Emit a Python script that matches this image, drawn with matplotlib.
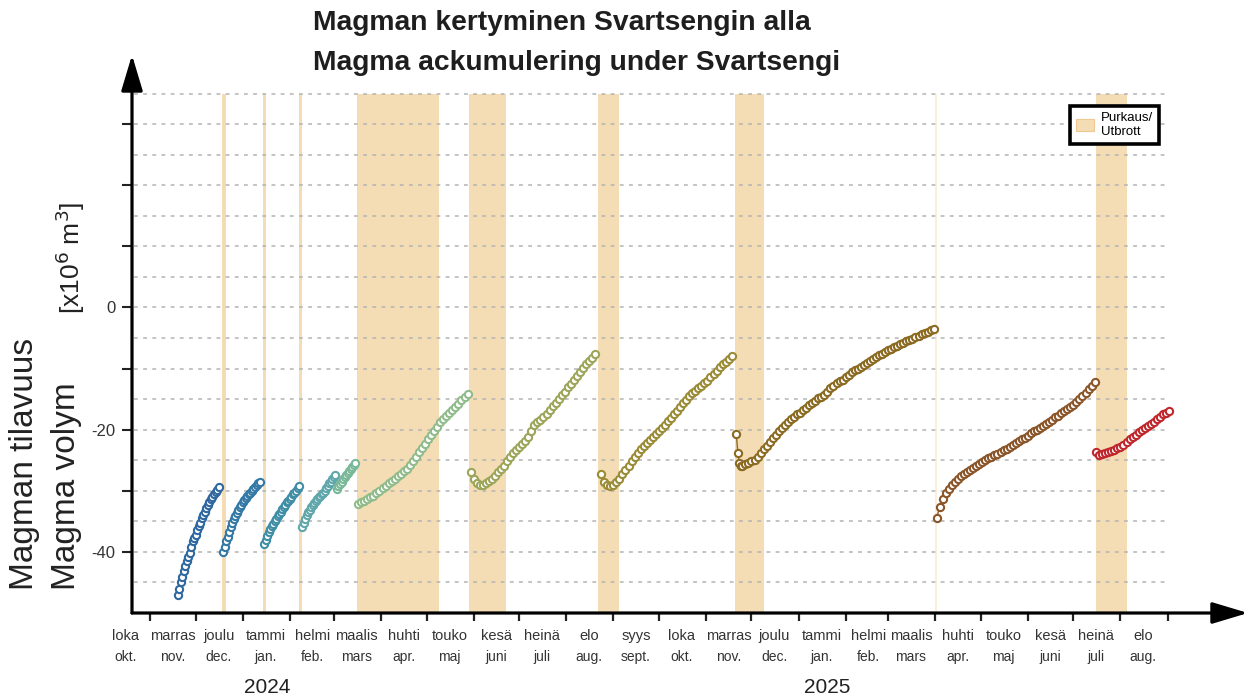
import matplotlib
matplotlib.use('Agg')
import matplotlib.pyplot as plt
from matplotlib.patches import Patch
from datetime import date, timedelta

plt.rcParams['font.family'] = ['Liberation Sans', 'DejaVu Sans']

# ---------------- data ----------------
s1_start, s1_step = date(2023, 11, 19), 1
s1_vals = [-47.1, -46.0, -45.0, -44.1, -43.2, -42.3, -41.5, -40.8, -40.2, -39.2,
           -38.3, -37.8, -37.2, -36.5, -35.8, -35.2, -34.5, -33.9, -33.4, -32.8,
           -32.3, -31.8, -31.4, -31.0, -30.6, -30.2, -29.8, -29.4]

s2_start, s2_step = date(2023, 12, 19), 1
s2_vals = [-40.1, -39.2, -38.3, -37.5, -36.7, -35.9, -35.2, -34.6, -34.1, -33.6,
           -33.1, -32.7, -32.3, -31.9, -31.5, -31.2, -30.9, -30.6, -30.3, -30.0,
           -29.7, -29.4, -29.1, -28.8, -28.5]

s3_start, s3_step = date(2024, 1, 15), 1
s3_vals = [-38.7, -38.0, -37.4, -36.8, -36.3, -35.8, -35.4, -35.0, -34.6, -34.2,
           -33.8, -33.4, -33.0, -32.6, -32.3, -31.9, -31.6, -31.3, -31.0, -30.6,
           -30.3, -30.0, -29.6, -29.2]

s4_start, s4_step = date(2024, 2, 9), 1
s4_vals = [-36.0, -35.3, -34.6, -34.0, -33.5, -33.1, -32.7, -32.4, -32.0, -31.7,
           -31.4, -31.1, -30.8, -30.5, -30.3, -30.0, -29.6, -29.2, -28.8, -28.5,
           -28.1, -27.8, -27.5]

s4b_start, s4b_step = date(2024, 3, 3), 1
s4b_vals = [-29.7, -29.3, -28.9, -28.5, -28.1, -27.8, -27.5, -27.1, -26.8, -26.5,
            -26.1, -25.8, -25.4]

s5_start, s5_step = date(2024, 3, 17), 2
s5_vals = [-32.2, -31.9, -31.6, -31.3, -31.0, -30.8, -30.4, -30.0, -29.6, -29.2,
           -28.8, -28.4, -28.0, -27.6, -27.2, -26.8, -26.4, -25.8, -25.1, -24.4,
           -23.7, -23.0, -22.3, -21.6, -20.9, -20.2, -19.5, -18.8, -18.3, -17.8,
           -17.3, -16.8, -16.3, -15.8, -15.2, -14.7, -14.2]

s6_start, s6_step = date(2024, 5, 30), 2
s6_vals = [-26.9, -28.0, -28.8, -29.1, -29.1, -28.8, -28.4, -28.0, -27.6, -27.0,
           -26.5, -26.0, -25.2, -24.5, -23.9, -23.4, -22.8, -22.3, -21.8, -21.2,
           -20.3, -19.3, -18.8, -18.4, -18.0, -17.4, -16.8, -16.2, -15.6, -15.0,
           -14.4, -13.8, -13.1, -12.5, -11.8, -11.2, -10.5, -9.9, -9.3, -8.8,
           -8.2, -7.6]

s7_start, s7_step = date(2024, 8, 24), 2
s7_vals = [-27.3, -28.5, -29.0, -29.2, -29.0, -28.5, -28.0, -27.3, -26.6, -25.9,
           -25.2, -24.5, -23.8, -23.2, -22.7, -22.2, -21.7, -21.2, -20.7, -20.2,
           -19.7, -19.2, -18.6, -18.1, -17.5, -16.9, -16.3, -15.7, -15.1, -14.5,
           -14.0, -13.6, -13.2, -12.8, -12.4, -12.0, -11.4, -10.9, -10.4, -9.8,
           -9.3, -8.9, -8.4, -7.9]

s8a_start, s8a_step = date(2024, 11, 21), 1
s8a_vals = [-20.7, -23.8, -25.4, -26.0]
s8_start, s8_step = date(2024, 11, 25), 2
s8_vals = [-25.9, -25.7, -25.4, -25.2, -24.9, -24.4, -23.8, -23.2, -22.6, -22.0,
           -21.3, -20.8, -20.3, -19.8, -19.3, -18.8, -18.3, -17.9, -17.5, -17.2,
           -16.8, -16.4, -16.0, -15.6, -15.3, -14.9, -14.6, -14.3, -13.8, -13.2,
           -12.8, -12.4, -12.1, -11.8, -11.4, -11.0, -10.6, -10.3, -10.0, -9.7,
           -9.4, -9.1, -8.8, -8.4, -8.1, -7.8, -7.6, -7.3, -7.0, -6.8,
           -6.5, -6.3, -6.0, -5.8, -5.5, -5.3, -5.1, -4.9, -4.6, -4.4,
           -4.2, -4.0, -3.7, -3.5]

s9_start, s9_step = date(2025, 4, 2), 2
s9_vals = [-34.4, -32.6, -31.3, -30.4, -29.7, -29.1, -28.6, -28.1, -27.6, -27.2,
           -26.9, -26.6, -26.3, -26.0, -25.6, -25.3, -25.0, -24.7, -24.5, -24.2,
           -24.0, -23.7, -23.4, -23.1, -22.8, -22.5, -22.2, -21.9, -21.6, -21.3,
           -21.0, -20.6, -20.3, -20.0, -19.7, -19.4, -19.1, -18.8, -18.4, -18.0,
           -17.7, -17.3, -17.0, -16.6, -16.3, -15.9, -15.5, -15.0, -14.5, -14.0,
           -13.4, -12.8, -12.2]

s10_start, s10_step = date(2025, 7, 16), 2
s10_vals = [-23.6, -24.1, -24.0, -23.8, -23.6, -23.5, -23.3, -23.0, -22.9, -22.5,
            -22.0, -21.6, -21.2, -20.8, -20.4, -20.0, -19.7, -19.4, -19.1, -18.7,
            -18.3, -17.9, -17.5, -17.2, -16.9]

series_colors = ['#2f68a0', '#3479a5', '#3f8ea6', '#5fa7ab', '#79b898', '#8fbc8a',
                 '#9da55a', '#9a8c36', '#8b6a22', '#8a5529', '#c0272d']

eruption_starts = [date(2023, 12, 18), date(2024, 1, 14), date(2024, 2, 7),
                   date(2024, 3, 16), date(2024, 5, 29), date(2024, 8, 22),
                   date(2024, 11, 20), date(2025, 4, 1), date(2025, 7, 16)]
eruption_ends = [date(2023, 12, 21), date(2024, 1, 16), date(2024, 2, 9),
                 date(2024, 5, 9), date(2024, 6, 22), date(2024, 9, 5),
                 date(2024, 12, 9), date(2025, 4, 2), date(2025, 8, 5)]

month_fi = ['loka', 'marras', 'joulu', 'tammi', 'helmi', 'maalis', 'huhti', 'touko',
            'kesä', 'heinä', 'elo', 'syys', 'loka', 'marras', 'joulu', 'tammi',
            'helmi', 'maalis', 'huhti', 'touko', 'kesä', 'heinä', 'elo']
month_sv = ['okt.', 'nov.', 'dec.', 'jan.', 'feb.', 'mars', 'apr.', 'maj',
            'juni', 'juli', 'aug.', 'sept.', 'okt.', 'nov.', 'dec.', 'jan.',
            'feb.', 'mars', 'apr.', 'maj', 'juni', 'juli', 'aug.']
years = ['2024', '2025']
year_dates = [date(2024, 1, 17), date(2025, 1, 20)]

ytick_vals = [-40, -30, -20, -10, 0, 10, 20, 30]
ytick_labels = ['-40', '', '-20', '', '0', '', '', '']

# ---------------- helpers ----------------
def dates_for(start, step, n):
    return [start + timedelta(days=step * i) for i in range(n)]

def month_starts(y0, m0, count):
    out = []
    y, m = y0, m0
    for _ in range(count):
        out.append(date(y, m, 1))
        m += 1
        if m > 12:
            m, y = 1, y + 1
    return out

series = [
    (dates_for(s1_start, s1_step, len(s1_vals)), s1_vals),
    (dates_for(s2_start, s2_step, len(s2_vals)), s2_vals),
    (dates_for(s3_start, s3_step, len(s3_vals)), s3_vals),
    (dates_for(s4_start, s4_step, len(s4_vals)), s4_vals),
    (dates_for(s4b_start, s4b_step, len(s4b_vals)), s4b_vals),
    (dates_for(s5_start, s5_step, len(s5_vals)), s5_vals),
    (dates_for(s6_start, s6_step, len(s6_vals)), s6_vals),
    (dates_for(s7_start, s7_step, len(s7_vals)), s7_vals),
    (dates_for(s8a_start, s8a_step, len(s8a_vals)) + dates_for(s8_start, s8_step, len(s8_vals)),
     s8a_vals + s8_vals),
    (dates_for(s9_start, s9_step, len(s9_vals)), s9_vals),
    (dates_for(s10_start, s10_step, len(s10_vals)), s10_vals),
]

# ---------------- figure ----------------
W, H = 1250, 697
fig = plt.figure(figsize=(W / 100, H / 100), dpi=100)
ax = fig.add_axes([132 / W, (H - 613) / H, (1248 - 132) / W, (613 - 55) / H])

x_left, x_right = date(2023, 10, 20), date(2025, 10, 24)
y_bot, y_top = -50, 41.3
ax.set_xlim(x_left, x_right)
ax.set_ylim(y_bot, y_top)
for s in ax.spines.values():
    s.set_visible(False)

# gridlines
for v in range(-45, 40, 5):
    ax.plot([date(2023, 10, 21), date(2025, 9, 2)], [v, v], color='#b3b3b3',
            lw=1.1, ls=(0, (2.5, 3.5)), zorder=1)

# eruption spans
span_color = '#f4ddb4'
for i, (s, e) in enumerate(zip(eruption_starts, eruption_ends)):
    c = '#fbeedd' if i == 7 else span_color
    ax.fill_between([s, e], y_bot, 35, color=c, lw=0, zorder=0.5)

# series
for (d, v), c in zip(series, series_colors):
    ax.plot(d, v, '-o', color=c, lw=1.0, ms=5.2, mfc='white', mec=c, mew=1.5, zorder=3)

# axis lines with arrows
arrow_kw = dict(arrowstyle='-|>,head_length=1.1,head_width=0.33', mutation_scale=20,
                lw=2.3, color='black', shrinkA=0, shrinkB=0)
ax.annotate('', xy=(1, 0), xytext=(0, 0), xycoords='axes fraction',
            textcoords='axes fraction', arrowprops=arrow_kw, zorder=5)
ax.annotate('', xy=(0, 1), xytext=(0, 0), xycoords='axes fraction',
            textcoords='axes fraction', arrowprops=arrow_kw, zorder=5)

# ticks
mticks = month_starts(2023, 11, 23)
ax.set_xticks(mticks)
ax.set_xticklabels([''] * len(mticks))
ax.tick_params(axis='x', direction='out', length=6, width=1.6, color='#222')
ax.set_yticks(ytick_vals)
ax.set_yticklabels(ytick_labels)
ax.tick_params(axis='y', direction='out', length=7, width=1.5, color='#222',
               labelsize=12, labelcolor='#333', pad=5)

# month labels
trans = ax.get_xaxis_transform()
mcenters = [date(2023, 10, 16)] + [m + timedelta(days=15) for m in mticks[:-1]]
for x, fi, sv in zip(mcenters, month_fi, month_sv):
    ax.text(x, -0.041, fi, transform=trans, ha='center', va='center', fontsize=10.5,
            color='#333', clip_on=False)
    ax.text(x, -0.079, sv, transform=trans, ha='center', va='center', fontsize=10,
            color='#333', clip_on=False)
for x, yr in zip(year_dates, years):
    ax.text(x, -0.134, yr, transform=trans, ha='center', va='center', fontsize=15,
            color='#222', clip_on=False)

# titles
fig.text(313 / W, 1 - 23 / H, 'Magman kertyminen Svartsengin alla', ha='left',
         va='center', fontsize=20.3, fontweight='bold', color='#1e1e1e')
fig.text(313 / W, 1 - 63 / H, 'Magma ackumulering under Svartsengi', ha='left',
         va='center', fontsize=20.3, fontweight='bold', color='#1e1e1e')

# y labels
fig.text(25 / W, 1 - 590 / H, 'Magman tilavuus', rotation=90, ha='center', va='bottom',
         fontsize=24, color='#222')
fig.text(66 / W, 1 - 590 / H, 'Magma volym', rotation=90, ha='center', va='bottom',
         fontsize=24, color='#222')
fig.text(70 / W, 1 - 258 / H, r'[x10$^6$ m$^3$]', rotation=90, ha='center', va='center',
         fontsize=19, color='#222')

# legend
leg = fig.legend(handles=[Patch(facecolor=span_color, edgecolor='#eec890', lw=0.8,
                                label='Purkaus/\nUtbrott')],
                 loc='upper left', bbox_to_anchor=(1070 / W, 1 - 106 / H),
                 borderaxespad=0, fontsize=9.5, frameon=True, fancybox=False,
                 handlelength=1.4, handleheight=1.0, borderpad=0.45,
                 handletextpad=0.5, labelspacing=0.2)
leg.get_frame().set_edgecolor('black')
leg.get_frame().set_linewidth(2.6)
leg.get_frame().set_alpha(1)

fig.savefig('out.png', dpi=100)
